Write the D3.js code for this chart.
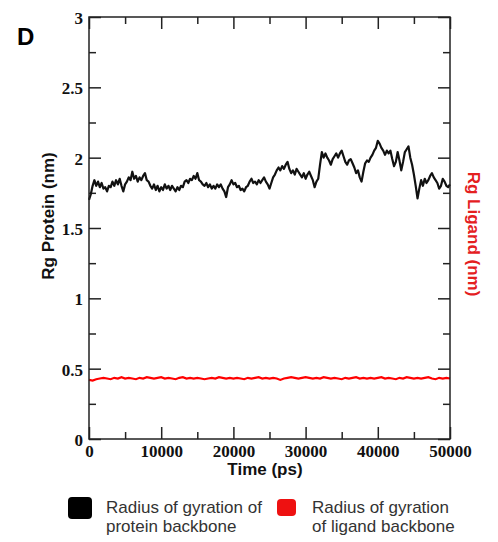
<!DOCTYPE html>
<html>
<head>
<meta charset="utf-8">
<script src="https://cdn.jsdelivr.net/npm/d3@7"></script>
<style>
  body { margin: 0; background: #fff; }
  svg { display: block; }
</style>
</head>
<body>
<div id="chart"></div>
<script>
// Rg of protein backbone (nm), sampled every 250 ps from 0 to 50000 ps
const timeStep = 250;
const rgProtein = [
  1.70,1.74,1.80,1.84,1.80,1.83,1.79,1.82,1.78,1.79,1.76,1.80,1.79,1.83,1.80,1.84,1.81,1.85,1.80,1.76,
  1.81,1.83,1.86,1.84,1.90,1.85,1.87,1.83,1.86,1.84,1.87,1.89,1.84,1.83,1.80,1.78,1.81,1.77,1.80,1.76,
  1.79,1.77,1.81,1.78,1.80,1.77,1.80,1.78,1.76,1.79,1.77,1.80,1.79,1.83,1.84,1.82,1.85,1.84,1.87,1.85,
  1.89,1.84,1.83,1.81,1.80,1.82,1.79,1.81,1.78,1.80,1.78,1.81,1.79,1.81,1.78,1.76,1.72,1.79,1.81,1.84,
  1.81,1.82,1.79,1.80,1.77,1.78,1.76,1.79,1.80,1.83,1.85,1.82,1.83,1.81,1.84,1.82,1.84,1.86,1.83,1.81,
  1.78,1.82,1.86,1.88,1.91,1.93,1.91,1.94,1.92,1.95,1.97,1.92,1.89,1.91,1.88,1.92,1.90,1.88,1.86,1.89,
  1.85,1.88,1.90,1.87,1.84,1.79,1.83,1.85,1.95,2.04,2.00,2.03,2.00,1.98,1.95,1.99,2.01,2.03,2.00,2.03,
  2.05,2.01,1.97,1.95,1.98,1.99,1.96,1.93,1.89,1.91,1.86,1.83,1.90,1.96,1.98,1.97,2.00,2.02,2.05,2.07,
  2.12,2.10,2.07,2.05,2.02,2.05,2.03,2.05,1.99,1.94,1.97,2.04,1.98,1.91,1.97,2.04,2.06,2.08,2.00,1.95,
  1.88,1.80,1.71,1.78,1.84,1.80,1.85,1.82,1.84,1.87,1.89,1.86,1.84,1.82,1.78,1.80,1.85,1.83,1.80,1.79,
  1.81
];

// Rg of ligand backbone (nm), sampled every 500 ps
const ligandStep = 500;
const rgLigand = [
  0.42,0.415,0.425,0.43,0.435,0.43,0.425,0.435,0.43,0.44,
  0.43,0.435,0.43,0.425,0.435,0.43,0.44,0.435,0.43,0.435,
  0.44,0.43,0.435,0.43,0.425,0.435,0.44,0.43,0.435,0.43,
  0.435,0.43,0.425,0.43,0.435,0.43,0.44,0.435,0.43,0.435,
  0.43,0.435,0.43,0.425,0.435,0.43,0.435,0.44,0.43,0.435,
  0.43,0.435,0.43,0.42,0.43,0.435,0.44,0.435,0.43,0.435,
  0.44,0.435,0.43,0.435,0.43,0.44,0.435,0.43,0.435,0.43,
  0.425,0.435,0.43,0.435,0.44,0.43,0.435,0.43,0.435,0.43,
  0.435,0.44,0.43,0.435,0.43,0.425,0.435,0.43,0.44,0.435,
  0.43,0.435,0.43,0.435,0.44,0.43,0.425,0.435,0.43,0.435,0.43
];

const xTicks = [0, 10000, 20000, 30000, 40000, 50000];
const xMinorTicks = [5000, 15000, 25000, 35000, 45000];
const yTicks = [0, 0.5, 1, 1.5, 2, 2.5, 3];
const yMinorTicks = [0.25, 0.75, 1.25, 1.75, 2.25, 2.75];

const legendItems = [
  { color: "#000000", lines: ["Radius of gyration of", "protein backbone"] },
  { color: "#ee1111", lines: ["Radius of gyration", "of ligand backbone"] }
];

const W = 498, H = 542;
const margin = { top: 17, right: 48, bottom: 103, left: 89 },
      width = W - margin.left - margin.right,
      height = H - margin.top - margin.bottom;

const root = d3.select("#chart").append("svg")
    .attr("width", W)
    .attr("height", H);

const svg = root.append("g")
    .attr("transform", `translate(${margin.left},${margin.top})`);

const x = d3.scaleLinear().domain([0, 50000]).range([0, width]);
const y = d3.scaleLinear().domain([0, 3]).range([height, 0]);

const tickFont = "'Liberation Serif', 'Times New Roman', serif";
const sansFont = "'Liberation Sans', Arial, sans-serif";

function styleAxis(g) {
    g.select(".domain").remove();
    g.selectAll(".tick line").attr("stroke", "#222").attr("stroke-width", 1.5);
    g.selectAll(".tick text")
        .attr("fill", "#111")
        .style("font-family", tickFont)
        .style("font-weight", "bold")
        .style("font-size", "17px");
}

// bottom axis with labels
svg.append("g")
    .attr("transform", `translate(0,${height})`)
    .call(d3.axisBottom(x).tickValues(xTicks).tickSize(-12).tickPadding(6).tickFormat(d3.format("d")))
    .call(styleAxis);
svg.append("g")
    .attr("transform", `translate(0,${height})`)
    .call(d3.axisBottom(x).tickValues(xMinorTicks).tickSize(-7).tickFormat(""))
    .call(styleAxis);

// top axis (mirror)
svg.append("g")
    .call(d3.axisTop(x).tickValues(xTicks).tickSize(-12).tickFormat(""))
    .call(styleAxis);
svg.append("g")
    .call(d3.axisTop(x).tickValues(xMinorTicks).tickSize(-7).tickFormat(""))
    .call(styleAxis);

// left axis with labels
svg.append("g")
    .call(d3.axisLeft(y).tickValues(yTicks).tickSize(-12).tickPadding(6).tickFormat(d3.format("~g")))
    .call(styleAxis)
    .call(g => g.selectAll(".tick text").attr("dy", "0.38em"));
svg.append("g")
    .call(d3.axisLeft(y).tickValues(yMinorTicks).tickSize(-7).tickFormat(""))
    .call(styleAxis);

// right axis (mirror)
svg.append("g")
    .attr("transform", `translate(${width},0)`)
    .call(d3.axisRight(y).tickValues(yTicks).tickSize(-12).tickFormat(""))
    .call(styleAxis);
svg.append("g")
    .attr("transform", `translate(${width},0)`)
    .call(d3.axisRight(y).tickValues(yMinorTicks).tickSize(-7).tickFormat(""))
    .call(styleAxis);

// Ligand line
svg.append("path")
    .datum(rgLigand)
    .attr("fill", "none")
    .attr("stroke", "#ff0000")
    .attr("stroke-width", 2.2)
    .attr("d", d3.line()
        .x((d, i) => x(i * ligandStep))
        .y(d => y(d))
    );

// Protein line
svg.append("path")
    .datum(rgProtein)
    .attr("fill", "none")
    .attr("stroke", "#111")
    .attr("stroke-width", 2.2)
    .attr("stroke-linejoin", "round")
    .attr("d", d3.line()
        .x((d, i) => x(i * timeStep))
        .y(d => y(d))
    );

// frame
svg.append("rect")
    .attr("width", width)
    .attr("height", height)
    .attr("fill", "none")
    .attr("stroke", "#222")
    .attr("stroke-width", 1.5);

// X axis label
svg.append("text")
    .attr("text-anchor", "middle")
    .attr("x", 265 - margin.left)
    .attr("y", height + 36)
    .style("font-family", sansFont)
    .style("font-weight", "bold")
    .style("font-size", "17px")
    .attr("fill", "#111")
    .text("Time (ps)");

// Left Y label
svg.append("text")
    .attr("text-anchor", "middle")
    .attr("transform", `translate(${-35},${216 - margin.top}) rotate(-90)`)
    .style("font-family", sansFont)
    .style("font-weight", "bold")
    .style("font-size", "17px")
    .attr("fill", "#111")
    .text("Rg Protein (nm)");

// Right Y label
svg.append("text")
    .attr("text-anchor", "middle")
    .attr("transform", `translate(${width + 18},${234 - margin.top}) rotate(90)`)
    .style("font-family", sansFont)
    .style("font-weight", "bold")
    .style("font-size", "17px")
    .attr("fill", "#e4201f")
    .text("Rg Ligand (nm)");

// Panel letter
root.append("text")
    .attr("x", 17)
    .attr("y", 45)
    .style("font-family", sansFont)
    .style("font-weight", "bold")
    .style("font-size", "24px")
    .attr("fill", "#000")
    .text("D");

// Legend
const legendPos = [
    { sx: 68, sy: 497, sw: 24, sh: 22, tx: 106 },
    { sx: 277, sy: 499, sw: 19, sh: 17, tx: 312 }
];
const legend = root.append("g");
legendItems.forEach((item, i) => {
    const p = legendPos[i];
    legend.append("rect")
        .attr("x", p.sx).attr("y", p.sy)
        .attr("width", p.sw).attr("height", p.sh)
        .attr("rx", 4)
        .attr("fill", item.color);
    const t = legend.append("text")
        .style("font-family", sansFont)
        .style("font-size", "17px")
        .attr("fill", "#333");
    item.lines.forEach((line, j) => {
        t.append("tspan")
            .attr("x", p.tx)
            .attr("y", 513 + j * 19)
            .text(line);
    });
});
</script>
</body>
</html>
